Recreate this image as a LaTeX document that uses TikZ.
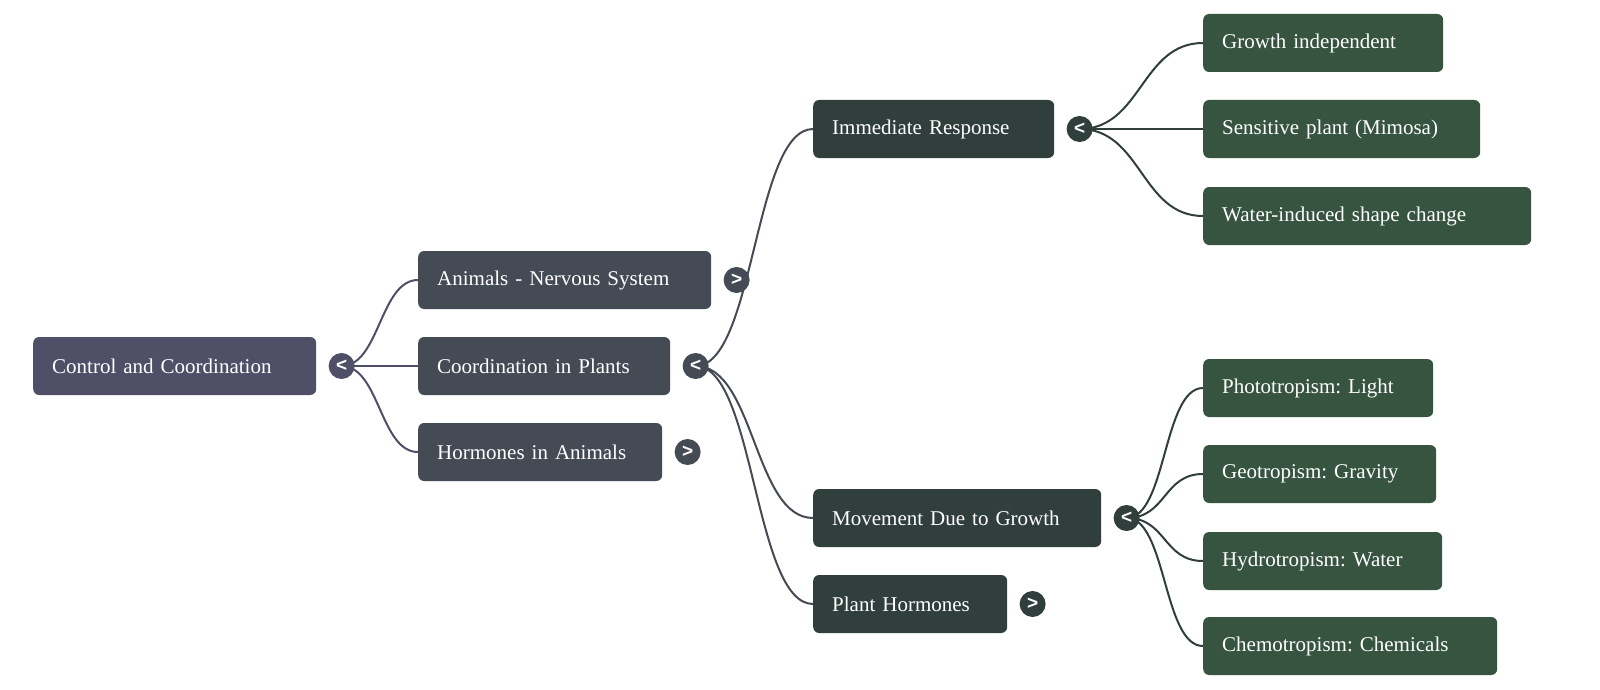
\documentclass[tikz,border=0pt]{standalone}
\usepackage{fontspec}
\setmainfont{Liberation Serif}
\newfontfamily\foldfont{Liberation Sans}
\usetikzlibrary{positioning,backgrounds}
\definecolor{rootcol}{RGB}{79,80,104}
\definecolor{branchcol}{RGB}{68,75,85}
\definecolor{plantcol}{RGB}{48,63,60}
\definecolor{leafcol}{RGB}{54,84,64}
\tikzset{
  mmnode/.style={rectangle, rounded corners=6pt, text=white, anchor=west,
    minimum height=58pt, inner xsep=19pt, inner ysep=0pt, align=left,
    font=\frenchspacing\fontsize{21}{25}\selectfont},
  rootnode/.style={mmnode, fill=rootcol},
  branchnode/.style={mmnode, fill=branchcol},
  plantnode/.style={mmnode, fill=plantcol},
  leafnode/.style={mmnode, fill=leafcol},
  fold/.style={circle, inner sep=0pt, minimum size=26pt, text=white,
    font=\foldfont\bfseries\fontsize{19}{19}\selectfont, right=12pt of #1},
  link/.style={line width=2pt, draw=#1},
}
\begin{document}
\begin{tikzpicture}[x=1pt, y=1pt]
\useasboundingbox (0,0) rectangle (1600,-690);
\node[rootnode, text width=245pt] (root) at (33,-366) {Control and Coordination};
\node[fold=root, fill=rootcol] (rootfold) {<};
\node[branchnode, text width=255pt] (animals) at (418,-280) {Animals - Nervous System};
\node[fold=animals, fill=branchcol] (animalsfold) {>};
\node[branchnode, text width=214pt] (plants) at (418,-366) {Coordination in Plants};
\node[fold=plants, fill=branchcol] (plantsfold) {<};
\node[branchnode, text width=206pt] (hormones) at (418,-452) {Hormones in Animals};
\node[fold=hormones, fill=branchcol] (hormonesfold) {>};
\node[plantnode, text width=203pt] (immediate) at (813,-129) {Immediate Response};
\node[fold=immediate, fill=plantcol] (immediatefold) {<};
\node[plantnode, text width=250pt] (growth) at (813,-518) {Movement Due to Growth};
\node[fold=growth, fill=plantcol] (growthfold) {<};
\node[plantnode, text width=156pt] (phyto) at (813,-604) {Plant Hormones};
\node[fold=phyto, fill=plantcol] (phytofold) {>};
\node[leafnode, text width=202pt] (indep) at (1203,-43) {Growth independent};
\node[leafnode, text width=239pt] (mimosa) at (1203,-129) {Sensitive plant (Mimosa)};
\node[leafnode, text width=290pt] (water) at (1203,-216) {Water-induced shape change};
\node[leafnode, text width=192pt] (photo) at (1203,-388) {Phototropism: Light};
\node[leafnode, text width=195pt] (geo) at (1203,-474) {Geotropism: Gravity};
\node[leafnode, text width=201pt] (hydro) at (1203,-561) {Hydrotropism: Water};
\node[leafnode, text width=256pt] (chemo) at (1203,-646) {Chemotropism: Chemicals};
\begin{pgfonlayer}{background}
\draw[link=rootcol] (rootfold.center) .. controls +(38,0) and +(-38,0) .. (animals.west);
\draw[link=rootcol] (rootfold.center) -- (plants.west);
\draw[link=rootcol] (rootfold.center) .. controls +(38,0) and +(-38,0) .. (hormones.west);
\draw[link=branchcol] (plantsfold.center) .. controls +(59,0) and +(-59,0) .. (immediate.west);
\draw[link=branchcol] (plantsfold.center) .. controls +(59,0) and +(-59,0) .. (growth.west);
\draw[link=branchcol] (plantsfold.center) .. controls +(59,0) and +(-59,0) .. (phyto.west);
\draw[link=plantcol] (immediatefold.center) .. controls +(62,0) and +(-62,0) .. (indep.west);
\draw[link=plantcol] (immediatefold.center) -- (mimosa.west);
\draw[link=plantcol] (immediatefold.center) .. controls +(62,0) and +(-62,0) .. (water.west);
\draw[link=plantcol] (growthfold.center) .. controls +(40,0) and +(-40,0) .. (photo.west);
\draw[link=plantcol] (growthfold.center) .. controls +(40,0) and +(-40,0) .. (geo.west);
\draw[link=plantcol] (growthfold.center) .. controls +(40,0) and +(-40,0) .. (hydro.west);
\draw[link=plantcol] (growthfold.center) .. controls +(40,0) and +(-40,0) .. (chemo.west);
\end{pgfonlayer}
\end{tikzpicture}
\end{document}
